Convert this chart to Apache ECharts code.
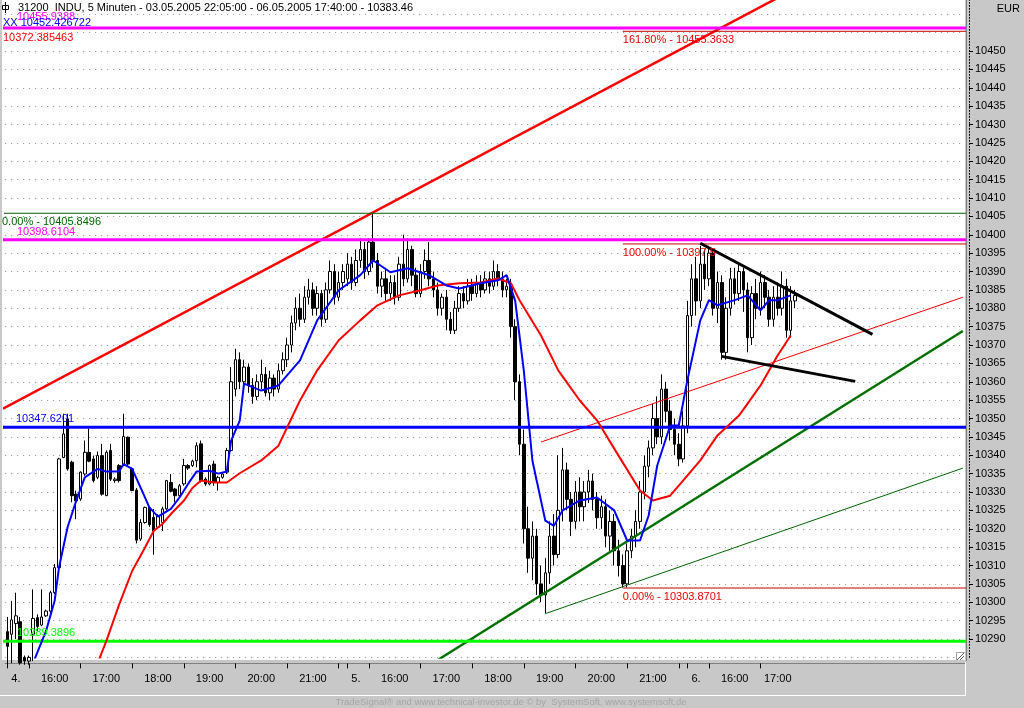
<!DOCTYPE html>
<html><head><meta charset="utf-8">
<script src="https://cdn.jsdelivr.net/npm/echarts@6/dist/echarts.min.js"></script>
<style>html,body{margin:0;padding:0;background:#c8c8c8;}#c{width:1024px;height:708px;}</style>
</head><body><div id="c"></div>
<script>
// ---------- DATA ----------
const days = ['04.05.2005', '05.05.2005', '06.05.2005'];
const barsPerDay = [79, 79, 26];           // 5-minute bars from 15:35
const totalSlots = 223;                    // slots on the axis incl. empty space to the right
// [open, high, low, close]
const ohlcDay4 = [
[10292,10296,10283,10288],[10291.3,10300.4,10283.4,10295.2],[10294.2,10302.6,10290,10296.3],[10294.7,10296,10283,10283.5],
[10285,10285.5,10283,10284],[10284,10285.5,10283,10285],[10291.3,10303.5,10284,10295.6],[10295.8,10296.7,10292.2,10293.4],
[10293.8,10303.5,10293.5,10296],[10296.3,10298,10296,10297.6],[10297.6,10303.1,10296.7,10302.6],[10302.6,10310.4,10302.2,10309.4],
[10309.4,10339.3,10309.4,10339],[10339.4,10351.3,10339.2,10345.8],[10349.9,10351.3,10335.8,10336.3],[10338.1,10338.5,10327.2,10329],
[10329.4,10330.4,10322.6,10327.6],[10328.1,10335.6,10327.6,10335.4],[10334.9,10344,10334.4,10340.8],[10340.8,10347.2,10338.1,10338.4],
[10339,10339.9,10332.6,10333.1],[10334,10341,10333.5,10339.9],[10339.9,10343.1,10329,10329.4],[10329,10341.3,10328.9,10340.8],
[10341.3,10343.1,10333,10333.5],[10333.1,10334,10332.5,10333.5],[10337.2,10337.6,10332.6,10333.1],[10337.2,10351.3,10337,10345.1],
[10344.9,10345.1,10337.2,10337.6],[10336.3,10336.7,10330.2,10330.4],[10330.5,10331.1,10316,10316.9],[10317.2,10322.6,10316.7,10321.7],
[10321.7,10326,10321.4,10325.8],[10325.8,10326,10320.5,10321.1],[10323.1,10325.4,10312.9,10319.4],[10320.4,10324,10319.9,10323.5],
[10321.7,10326,10319.4,10325.4],[10325.4,10333.3,10325,10333.1],[10332.6,10334.9,10329.9,10330.2],[10330.8,10331.1,10327.2,10329],
[10329,10332.2,10328.5,10331.7],[10332.2,10339,10331.7,10337.2],[10337.2,10337.6,10336,10336.5],[10337.2,10338.8,10336.8,10338.4],
[10338.5,10343.5,10336.7,10342.6],[10343.1,10344,10332.6,10333.1],[10333.5,10334,10331.7,10332.2],[10332.2,10337.5,10331.8,10337.2],
[10337.6,10338.5,10331.7,10332.6],[10332.6,10334.4,10330.4,10334],[10334,10335.3,10333.6,10334.9],[10335.4,10342,10334.9,10341.3],
[10341.3,10364,10341,10360],[10358,10369,10356,10366],[10366,10368,10358,10360],[10360,10366,10358,10364],
[10364,10365,10357,10359],[10359,10361,10354,10356],[10356,10362,10355,10360],[10360,10366,10358,10362],
[10362,10364,10356,10357],[10357,10363,10355,10361],[10361,10362,10356,10358],[10358,10365,10357,10363],
[10363,10368,10362,10366],[10366,10372,10364,10370],[10370,10378,10368,10376],[10376,10383,10374,10380],
[10380,10384,10375,10377],[10377,10386,10376,10383],[10383,10388,10381,10385],[10385,10387,10378,10380],
[10380,10386,10378,10384],[10384,10385,10375,10377],[10377,10387,10376,10385],[10385,10393,10384,10390],
[10390,10392,10381,10383],[10383,10390,10382,10387],[10387,10392,10385,10390]
];
const ohlcDay5 = [
[10388,10395,10386,10392],[10392,10394,10385,10387],[10387,10396,10386,10393],[10393,10399,10391,10396],
[10396,10398,10388,10390],[10390,10399,10389,10398],[10398,10405.8,10391,10393],[10393,10395,10384,10386],
[10386,10390,10383,10388],[10388,10391,10382,10384],[10384,10389,10382,10387],[10387,10389,10381,10383],
[10383,10394,10382,10392],[10392,10400,10386,10388],[10388,10399,10387,10396],[10396,10397,10386,10389],
[10389,10391,10383,10384],[10384,10392,10383,10390],[10390,10396,10388,10393],[10393,10398,10386,10388],
[10388,10390,10383,10385],[10385,10387,10378,10380],[10380,10384,10378,10383],[10383,10385,10374,10377],
[10377,10379,10373,10374],[10374,10382,10373,10380],[10380,10386,10379,10384],[10384,10386,10380,10382],
[10382,10388,10381,10386],[10386,10388,10382,10384],[10384,10389,10383,10387],[10387,10389,10383,10385],
[10385,10390,10384,10388],[10388,10390,10384,10386],[10386,10393,10385,10390],[10390,10392,10386,10388],
[10388,10390,10383,10385],[10385,10388,10383,10386],[10386,10388,10372,10375],[10375,10377,10355,10360],
[10360,10362,10340,10343],[10343,10347,10316,10320],[10320,10326,10308,10312],[10312,10322,10306,10318],
[10318,10320,10302,10305],[10305,10310,10300,10302],[10302,10312,10297,10308],[10308,10322,10305,10318],
[10318,10324,10310,10313],[10313,10340,10312,10325],[10325,10342,10322,10336],[10336,10338,10325,10328],
[10328,10330,10318,10322],[10322,10333,10320,10330],[10330,10334,10322,10326],[10326,10333,10322,10330],
[10330,10336,10327,10333],[10333,10335,10325,10328],[10328,10330,10320,10323],[10323,10329,10320,10326],
[10326,10328,10315,10318],[10318,10325,10314,10322],[10322,10324,10310,10314],[10314,10317,10307,10310],
[10310,10313,10304,10305],[10305,10316,10304,10314],[10314,10320,10312,10318],[10318,10325,10315,10322],
[10322,10333,10320,10330],[10330,10340,10328,10337],[10337,10344,10334,10342],[10342,10354,10340,10350],
[10350,10356,10343,10345],[10345,10362,10343,10358],[10358,10360,10349,10352],[10352,10355,10344,10347],
[10347,10350,10340,10343],[10343,10346,10337,10339],[10339,10352,10338,10348]
];
const ohlcDay6 = [
[10348,10382,10346,10378],[10378,10392,10375,10388],[10388,10394,10378,10382],[10382,10397,10380,10392],
[10392,10396,10385,10388],[10388,10397,10386,10395],[10395,10396,10378,10380],[10380,10390,10376,10387],
[10387,10389,10366,10368],[10368,10383,10366,10380],[10380,10391,10378,10388],[10388,10391,10381,10384],
[10384,10392,10382,10390],[10390,10391,10379,10385],[10385,10387,10368,10372],[10372,10386,10370,10384],
[10384,10388,10377,10380],[10380,10390,10378,10387],[10387,10389,10380,10383],[10383,10385,10375,10377],
[10377,10386,10375,10383],[10383,10387,10378,10380],[10380,10390,10378,10386],[10386,10388,10372,10374],
[10374,10386,10372,10382],[10382,10385,10380,10383.46]
];
// moving averages, points: [bar index, value]
const maFast = [[6,10283.5],[9,10292.2],[11,10300.4],[12,10309.4],[14,10320.4],[16,10327.6],[18,10334],[21,10336.3],[23,10335.6],
[26,10335.6],[27,10337.6],[29,10336.3],[31,10331.1],[33,10325.8],[35,10323.3],[38,10325.4],[40,10328.5],[42,10332.2],[44,10335.6],
[47,10335.8],[49,10335],[51,10335.6],[52,10344],[54,10349.4],[55,10359.5],[59,10357.6],[63,10359],[68,10365.8],[72,10376.7],
[77,10384.9],[82,10389],[85,10393],[89,10389.8],[93,10390.9],[98,10389],[102,10386.2],[105,10385.4],[110,10386.8],[114,10387.6],
[116,10389],[118,10382],[120,10363],[122,10338.5],[125,10322.2],[127,10320.8],[129,10325],[133,10327.7],[137,10328.5],[141,10325],
[144,10316.8],[147,10316.8],[149,10323.6],[151,10337.2],[154,10348.1],[156,10348.1],[158,10360.4],[161,10376.7],[163,10382.2],
[165,10380.8],[169,10382.2],[172,10383.5],[175,10379.4],[177,10382.2],[179,10382.2],[182,10383.5]];
const maSlow = [[21,10283.5],[23,10289.4],[26,10299.4],[29,10308.5],[32,10314.9],[34,10319.4],[36,10321.3],[38,10324],[41,10327.6],
[43,10331.1],[45,10333.1],[48,10332.6],[51,10332.6],[54,10335.1],[59,10338.6],[63,10342.6],[68,10354.9],[72,10363.1],[77,10371.3],
[82,10376.7],[86,10380.8],[91,10383.5],[96,10384.9],[100,10386.2],[105,10386.8],[110,10387],[114,10388.1],[117,10386.8],[119,10382.2],
[124,10372.6],[128,10363.1],[133,10354.9],[137,10349.5],[142,10339.9],[147,10330.4],[150,10327.7],[154,10329],[157,10333.1],
[161,10338.6],[165,10345.4],[170,10350.8],[175,10359],[179,10367.2],[182,10372.6]];
// horizontal levels
const magentaLevels = [10456.25, 10398.6104];
const magentaLabels = ['10455.9388', '10398.6104'];
const blueLevels = [10347.6201];
const limeLevels = [10289.3896];
const darkGreenLevels = [10405.8496];
const fibLevels = [10455.3633, 10397.5, 10303.8701];
const fibPercents = ['161.80%', '100.00%', '0.00%'];
const fibLabelValues = ['10455.3633', '10397.5', '10303.8701'];
const fibStartBar = 143;
// trend lines: [bar index, value] endpoints
const redChannel = [[-1, 10352.7], [180, 10465.1]];
const greenSupport = [[100, 10284.3], [222, 10373.8]];
const greenThin = [[125, 10296.9], [222, 10336.5]];
const redThin = [[124, 10343.6], [222, 10383.0]];
const triangleUpper = [[161, 10397.7], [201, 10372.9]];
const triangleLower = [[166, 10366.9], [197, 10360.1]];
const yTickLabels = [10290,10295,10300,10305,10310,10315,10320,10325,10330,10335,10340,10345,10350,10355,10360,10365,
10370,10375,10380,10385,10390,10395,10400,10405,10410,10415,10420,10425,10430,10435,10440,10445,10450];

// ---------- BUILD ----------
const FONT = '"Liberation Sans", Arial, sans-serif';
const pad = n => (n < 10 ? '0' : '') + n;
const categories = [];
const dayStarts = [];
const ohlcAll = [ohlcDay4, ohlcDay5, ohlcDay6];
const candleData = [];
days.forEach((d, di) => {
  dayStarts.push(categories.length);
  for (let i = 0; i < barsPerDay[di]; i++) {
    const m = 15 * 60 + 35 + 5 * i;
    categories.push(d + ' ' + pad(Math.floor(m / 60)) + ':' + pad(m % 60));
    const r = ohlcAll[di][i];
    candleData.push([r[0], r[3], r[2], r[1]]);
  }
});
while (categories.length < totalSlots) categories.push('');

const tickSet = new Set();
const labelMap = {};
days.forEach((d, di) => {
  const s = dayStarts[di], e = s + barsPerDay[di] - 1;
  tickSet.add(s);
  labelMap[s + 2] = parseInt(d.slice(0, 2), 10) + '.';
  for (let i = s; i <= e; i++) {
    const hm = categories[i].slice(11);
    if (hm.endsWith(':00')) {
      tickSet.add(i);
      const end = Math.min(i + 12, e + 1);
      if (end - i >= 6 && hm !== '22:00') labelMap[Math.round((i + end - 1) / 2)] = hm;
    }
  }
});

const lineSeries = (data, color, width, z) => ({
  type: 'line', data, symbol: 'none', silent: true, animation: false, z: z || 3,
  lineStyle: { color, width }, clip: true
});
const levelSeries = (v, color, width, start) => lineSeries([[start === undefined ? -1 : start, v], [totalSlots, v]], color, width, 4);

const series = [{
  type: 'candlestick', data: candleData, barWidth: 3, animation: false, z: 2,
  itemStyle: { color: '#ffffff', color0: '#000000', borderColor: '#000000', borderColor0: '#000000', borderWidth: 1 }
}];
magentaLevels.forEach(v => series.push(levelSeries(v, '#ff00ff', 3)));
blueLevels.forEach(v => series.push(levelSeries(v, '#0000ff', 3)));
limeLevels.forEach(v => series.push(levelSeries(v, '#00ff00', 3)));
darkGreenLevels.forEach(v => series.push(levelSeries(v, '#006400', 1)));
fibLevels.forEach(v => series.push(levelSeries(v, '#c80000', 1, fibStartBar)));
series.push(lineSeries(redThin, '#ff0000', 1));
series.push(lineSeries(greenThin, '#006400', 1));
series.push(lineSeries(greenSupport, '#007000', 2.5));
series.push(lineSeries(redChannel, '#ff0000', 2.5));
series.push(lineSeries(maSlow, '#ff0000', 2, 5));
series.push(lineSeries(maFast, '#0000ff', 2, 5));
series.push(lineSeries(triangleUpper, '#000000', 3, 6));
series.push(lineSeries(triangleLower, '#000000', 3, 6));

const chart = echarts.init(document.getElementById('c'), null, { renderer: 'canvas' });
chart.setOption({
  backgroundColor: '#c8c8c8',
  animation: false,
  textStyle: { fontFamily: FONT },
  grid: { left: 5.15, right: 59, top: -4.125, height: 661.5, containLabel: false, outerBoundsMode: 'none' },
  xAxis: {
    type: 'category', data: categories, boundaryGap: true, offset: 6,
    axisLine: { show: true, lineStyle: { color: '#808080', width: 1 } },
    axisTick: { show: true, alignWithLabel: true, length: 5, interval: (i) => tickSet.has(i), lineStyle: { color: '#000' } },
    axisLabel: { show: true, interval: (i) => labelMap[i] !== undefined, formatter: (v, i) => labelMap[i] || '',
      color: '#000', fontSize: 11, fontFamily: FONT, margin: 10 },
    splitLine: { show: false }
  },
  yAxis: [{
    type: 'value', position: 'right', min: 10285, max: 10465, interval: 5, offset: 4,
    axisLine: { show: true, lineStyle: { color: '#000', type: [1, 2] } },
    axisTick: { show: true, length: 4, customValues: yTickLabels, lineStyle: { color: '#000' } },
    axisLabel: { customValues: yTickLabels, formatter: v => String(v), color: '#000', fontSize: 11, fontFamily: FONT, margin: 6 },
    splitLine: { show: false }
  }, {
    type: 'value', position: 'left', min: 10285, max: 10465, interval: 5,
    axisLine: { show: false }, axisTick: { show: false }, axisLabel: { show: false },
    splitLine: { show: true, lineStyle: { color: '#909090', type: [1, 5], width: 1 } }
  }],
  series
});

// ---------- TEXT / DECORATION ----------
const py = v => chart.convertToPixel({ yAxisIndex: 0 }, v);
const px = i => chart.convertToPixel({ xAxisIndex: 0 }, i);
const txt = (x, y, s, color, align, size) => ({
  type: 'text', x, y, silent: true, z: 50,
  style: { text: s, fill: color, font: (size || 11) + 'px ' + FONT, textVerticalAlign: 'middle', textAlign: align || 'left' }
});
const ln = (x1, y1, x2, y2, stroke) => ({ type: 'line', shape: { x1, y1, x2, y2 }, style: { stroke, lineWidth: 1 }, z: 40, silent: true });
const g = [];
g.push({ type: 'rect', shape: { x: 2, y: 0, width: 963, height: 660 }, style: { fill: '#ffffff' }, z: -10, silent: true });
// axis panel borders
g.push(ln(0, 695.5, 966, 695.5, '#ffffff'));
g.push(ln(965.5, 662, 965.5, 696, '#ffffff'));
g.push(ln(966.5, 0, 966.5, 661, '#808080'));
// resize grip at plot corner
g.push(ln(957, 660, 964, 653, '#606060'));
g.push(ln(960, 660, 964, 656, '#606060'));
g.push(ln(956.5, 652.5, 964.5, 652.5, '#a0a0a0'));
g.push(ln(956.5, 652.5, 956.5, 660, '#a0a0a0'));
// title
g.push({ type: 'rect', shape: { x: 2.5, y: 5.5, width: 6, height: 4 }, style: { fill: 'none', stroke: '#000', lineWidth: 1 }, z: 50, silent: true });
g.push(ln(5.5, 2, 5.5, 13, '#000'));
g.push(txt(18, 8, '31200  INDU, 5 Minuten - 03.05.2005 22:05:00 - 06.05.2005 17:40:00 - 10383.46', '#000'));
g.push(txt(1020, 9, 'EUR', '#000', 'right'));
// top-left legend texts
g.push(txt(17, 17, magentaLabels[0], '#ff00ff'));
g.push(txt(3, 23, 'XX 10452.426722', '#0000ff'));
g.push(txt(3, 38, '10372.385463', '#ff0000'));
// level labels
g.push(txt(17, py(magentaLevels[1]) - 7.5, magentaLabels[1], '#ff00ff'));
g.push(txt(16, py(blueLevels[0]) - 8.5, blueLevels[0].toFixed(4), '#0000ff'));
g.push(txt(17, py(limeLevels[0]) - 8, limeLevels[0].toFixed(4), '#00ff00'));
g.push(txt(2, py(darkGreenLevels[0]) + 8.5, '0.00% - ' + darkGreenLevels[0].toFixed(4), '#006400'));
fibLevels.forEach((v, i) => {
  g.push(txt(px(fibStartBar), py(v) + 8.7, fibPercents[i] + ' - ' + fibLabelValues[i], '#ee0000'));
});
// footer
g.push(txt(511, 702, 'TradeSignal\u00ae and www.technical-investor.de \u00a9 by  SystemSoft, www.systemsoft.de', '#a4a4a4', 'center', 9.5));
chart.setOption({ graphic: g });
</script></body></html>
